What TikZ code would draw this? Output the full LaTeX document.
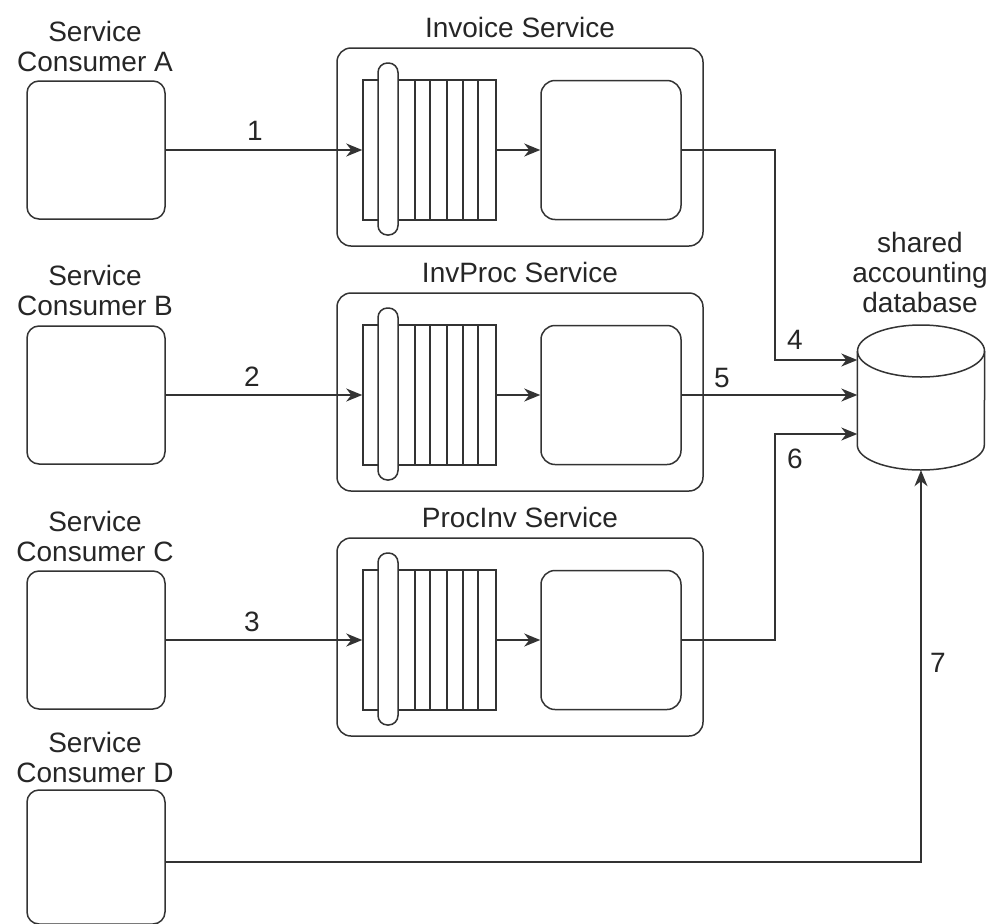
\documentclass[tikz,border=0pt]{standalone}
\usepackage{fontspec}
\setmainfont{Liberation Sans}
\usetikzlibrary{arrows.meta,calc}
\begin{document}
\begin{tikzpicture}[x=1pt,y=-1pt,
  every node/.style={font=\fontsize{28}{30}\selectfont, text=black!85},
  ln/.style={line width=1.5pt, draw=black!80},
  cbox/.style={ln, rectangle, rounded corners=12pt, minimum width=138pt, minimum height=138pt, inner sep=0pt},
  outer/.style={ln, rectangle, rounded corners=14pt, minimum width=366pt, minimum height=198pt, inner sep=0pt},
  qbox/.style={ln, rectangle, minimum width=133pt, minimum height=140pt, inner sep=0pt},
  pill/.style={ln, fill=white, rectangle, rounded corners=9.5pt, minimum width=20pt, minimum height=172pt, inner sep=0pt},
  sbox/.style={ln, rectangle, rounded corners=14pt, minimum width=140pt, minimum height=139pt, inner sep=0pt},
  arr/.style={ln, -{Stealth[length=16pt,width=13pt,inset=5pt]}},
  lbl/.style={align=center, inner sep=0pt}
]
\useasboundingbox (0,0) rectangle (994,924);

% consumers
\node[lbl] (tA) at (95,46) {Service\\Consumer A};
\node[cbox] (cA) at (96,150) {};
\node[lbl] (tB) at (95,290) {Service\\Consumer B};
\node[cbox] (cB) at (96,395) {};
\node[lbl] (tC) at (95,536) {Service\\Consumer C};
\node[cbox] (cC) at (96,640) {};
\node[lbl] (tD) at (95,757) {Service\\Consumer D};
\node[cbox, minimum height=134pt] (cD) at (96,857) {};

% services
\foreach \r/\name/\title in {0/1/Invoice Service, 245/2/InvProc Service, 490/3/ProcInv Service}{
  \node[inner sep=0pt] (t\name) at (520,27+\r) {\title};
  \node[outer] (o\name) at (520,147+\r) {};
  \node[qbox] (q\name) at (429.5,150+\r) {};
  \foreach \xx in {415,430,447,463,478}{
    \draw[ln] (\xx,80+\r) -- (\xx,220+\r);
  }
  \node[pill] (p\name) at (388,149+\r) {};
  \node[sbox] (s\name) at (611,150+\r) {};
  \draw[arr] (q\name.east) -- (s\name.west);
}

% database
\node[minimum width=127pt, minimum height=146pt, inner sep=0pt] (db) at (921,397) {};
\draw[ln, fill=white] (db.north west |- 0,351) -- (db.north west |- 0,445)
   arc[start angle=180, end angle=360, x radius=63.5pt, y radius=25pt]
   -- (db.north east |- 0,351);
\draw[ln] (921,351) ellipse[x radius=63.5pt, y radius=26pt];
\node[lbl] (dbt) at (920,272) {shared\\accounting\\database};

% connectors
\draw[arr] (cA.east) -- (q1.west);
\draw[arr] (cB.east) -- (q2.west);
\draw[arr] (cC.east) -- (q3.west);
\coordinate (j4) at (775,360);
\coordinate (j6) at (775,434);
\draw[arr] (s1.east) -| (j4) -- (db.west |- j4);
\draw[arr] (s2.east) -- (db.west |- s2.east);
\draw[arr] (s3.east) -| (j6) -- (db.west |- j6);
\draw[arr] ([yshift=-5pt]cD.east) -| (db.south);

% labels
\node (n1) at (255,131) {1};
\node (n2) at (252,377) {2};
\node (n3) at (252,622) {3};
\node (n4) at (795,340) {4};
\node (n5) at (722,378) {5};
\node (n6) at (795,459) {6};
\node (n7) at (938,663) {7};
\end{tikzpicture}
\end{document}
